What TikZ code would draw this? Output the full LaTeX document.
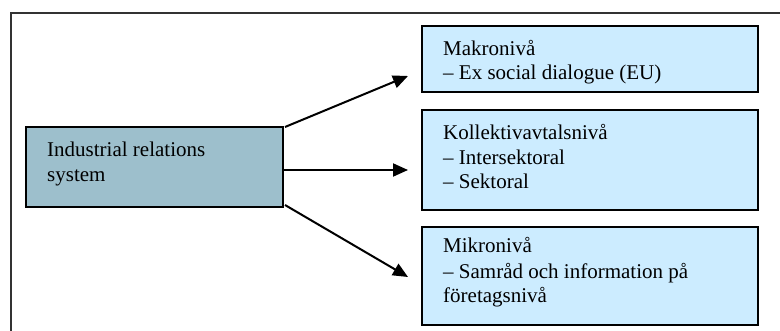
\documentclass[tikz,border=0pt]{standalone}
\usepackage{fontspec}
\setmainfont{Liberation Serif}
\usetikzlibrary{arrows.meta}
\definecolor{darkbox}{HTML}{9DBFCC}
\definecolor{lightbox}{HTML}{CCECFF}
\begin{document}
\begin{tikzpicture}[x=1pt,y=-1pt,
  box/.style={draw=black,line width=2pt,rectangle,inner sep=0pt,outer sep=0pt},
  txt/.style={anchor=base west,inner sep=0pt,font=\fontsize{21}{24}\selectfont},
  arr/.style={line width=2pt,-{Triangle[length=15pt,width=13pt]}}]
\useasboundingbox (0,0) rectangle (780,331);
% outer frame (cropped at right and bottom)
\draw[line width=2pt,black!80] (11,340) -- (11,13) -- (790,13);
% boxes
\node[box,fill=darkbox,minimum width=257pt,minimum height=80pt] (irs) at (154.5,167) {};
\node[box,fill=lightbox,minimum width=336pt,minimum height=66pt] (makro) at (590,59) {};
\node[box,fill=lightbox,minimum width=336pt,minimum height=100pt] (koll) at (590,160) {};
\node[box,fill=lightbox,minimum width=336pt,minimum height=98pt] (mikro) at (590,276) {};
% texts
\node[txt] (l1) at (47,157) {Industrial relations};
\node[txt] (l2) at (47,182) {system};
\node[txt] (m1) at (443,56) {Makronivå};
\node[txt] (m2) at (443,80) {– Ex social dialogue (EU)};
\node[txt] (k1) at (443,140) {Kollektivavtalsnivå};
\node[txt] (k2) at (443,165) {– Intersektoral};
\node[txt] (k3) at (443,189) {– Sektoral};
\node[txt] (c1) at (443,253) {Mikronivå};
\node[txt] (c2) at (443,279) {– Samråd och information på};
\node[txt] (c3) at (443,303) {företagsnivå};
% arrow tips
\coordinate (t1) at (408,76);
\coordinate (t2) at (408,170);
\coordinate (t3) at (408,277);
\draw[arr] ([xshift=2pt]irs.north east) -- (t1);
\draw[arr] ([xshift=1pt,yshift=-3pt]irs.east) -- (t2);
\draw[arr] ([xshift=2pt,yshift=2pt]irs.south east) -- (t3);
\end{tikzpicture}
\end{document}
